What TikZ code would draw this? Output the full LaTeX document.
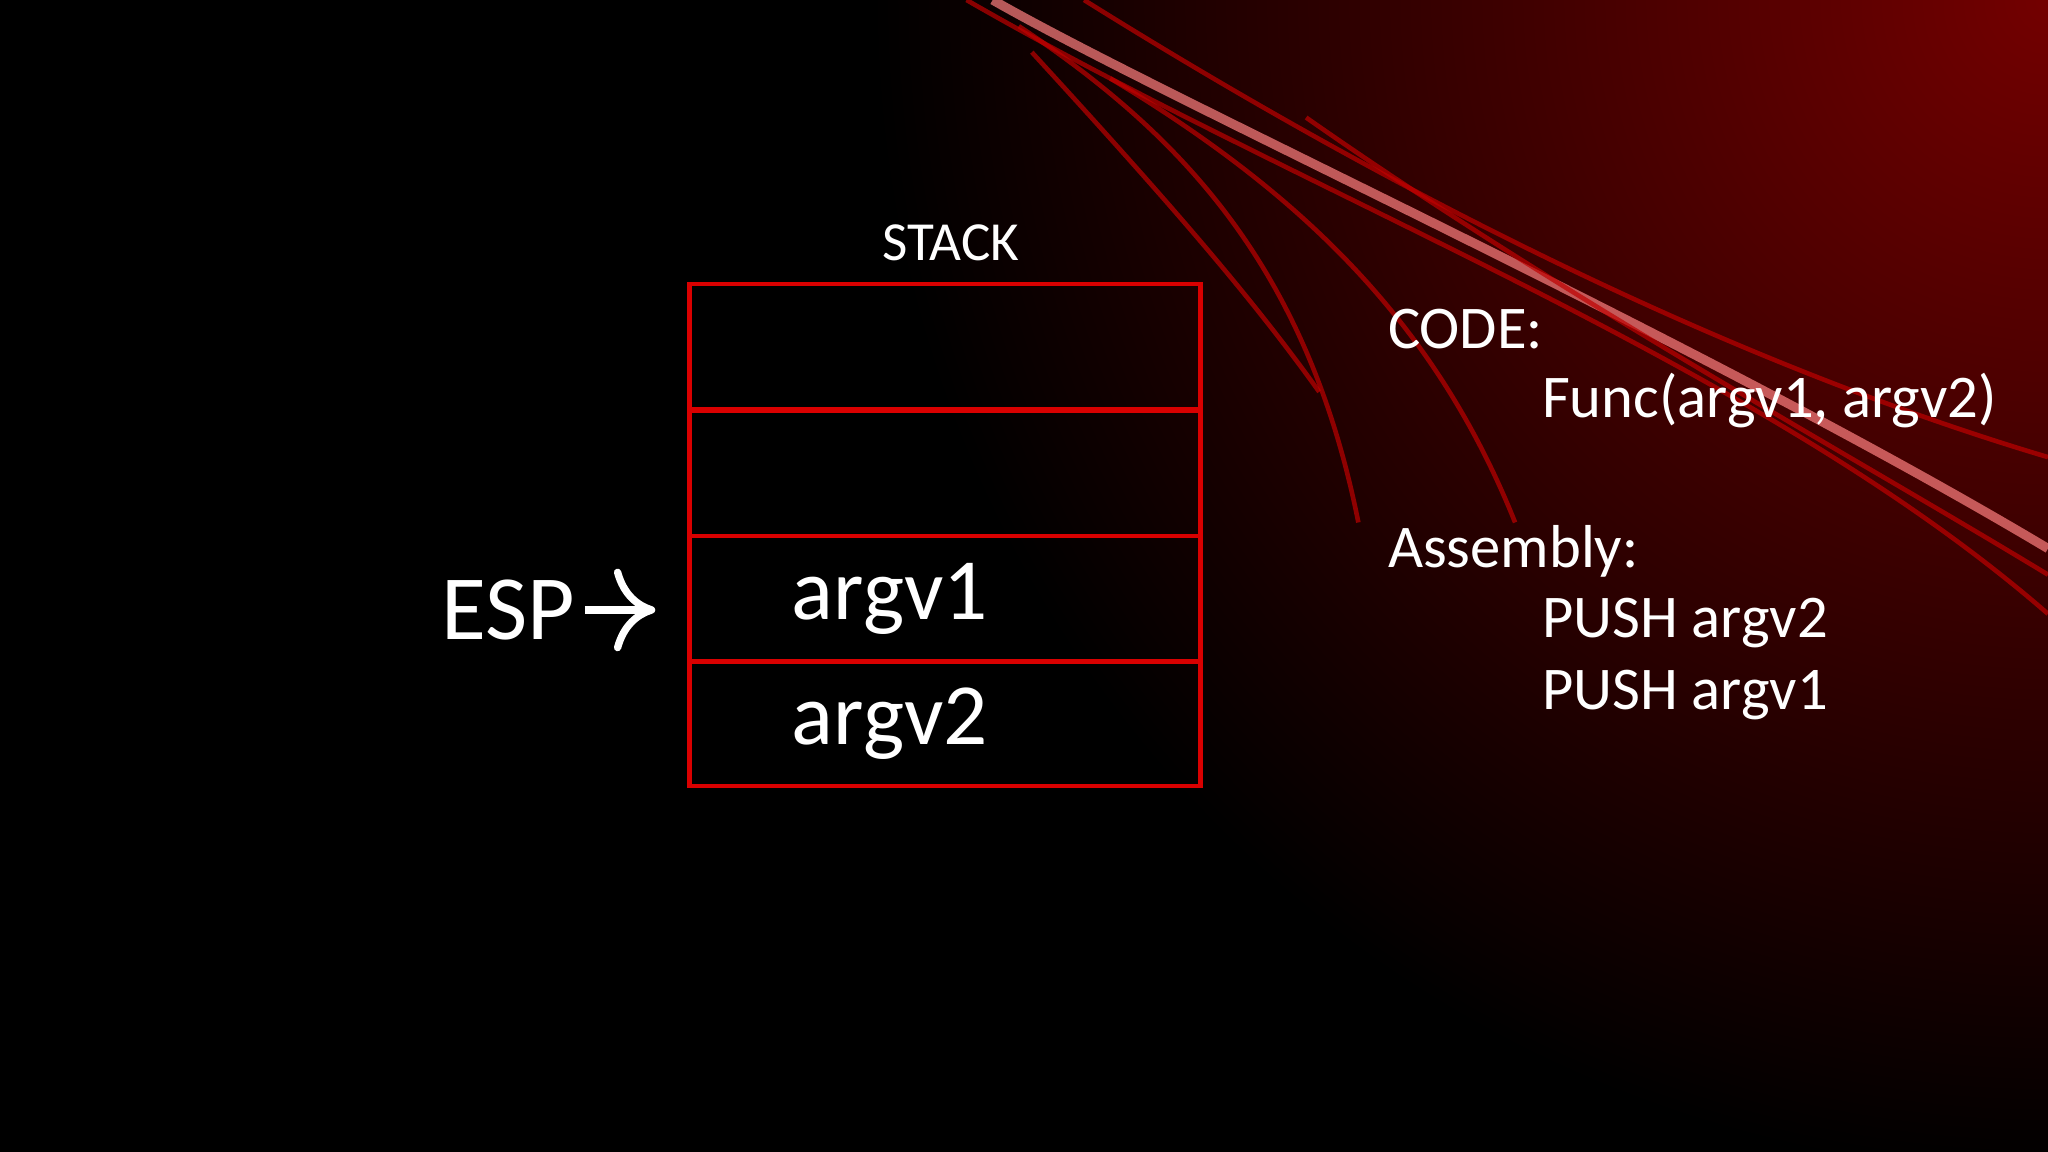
\documentclass[tikz,border=0pt]{standalone}
\usepackage{fontspec}
\setmainfont{Carlito}
\usetikzlibrary{positioning,arrows.meta}
\begin{document}
\begin{tikzpicture}[x=0.01cm,y=-0.01cm,
  cell/.style={draw=red!85!black, line width=0.9pt, minimum width=3.91cm, minimum height=0.96cm, inner sep=0pt, text=white, font=\fontsize{19}{23}\selectfont},
  txt/.style={text=white, anchor=west, inner sep=0pt, font=\fontsize{13.2}{16}\selectfont},
  streak/.style={red!75!black, line width=1pt, opacity=.7}]
\useasboundingbox (0,0) rectangle (1568,882);
% background
\begin{scope}
\clip (0,0) rectangle (1568,882);
\fill[black] (0,0) rectangle (1568,882);
\shade[inner color=red!45!black, outer color=black] (1568,0) circle (900);
\draw[streak] (740,0) .. controls (1000,150) and (1350,280) .. (1568,470);
\draw[streak, line width=2pt, red!50!white] (760,0) .. controls (900,80) and (1300,260) .. (1568,420);
\draw[streak] (830,0) .. controls (1150,200) and (1400,300) .. (1568,350);
\draw[streak] (780,20) .. controls (900,100) and (1000,200) .. (1040,400);
\draw[streak] (850,60) .. controls (1000,150) and (1100,250) .. (1160,400);
\draw[streak] (790,40) .. controls (900,160) and (960,230) .. (1010,300);
\draw[streak] (1000,90) .. controls (1200,230) and (1420,350) .. (1568,440);
\end{scope}
% stack
\node[cell] (c1) at (723.5,265.5) {};
\node[cell] (c2) at (723.5,362.5) {};
\node[cell] (c3) at (723.5,458.5) {\hspace*{-24pt}argv1};
\node[cell] (c4) at (723.5,554) {\hspace*{-24pt}argv2};
\node[text=white, font=\fontsize{12}{14}\selectfont] (stack) at (728,186) {STACK};
% pointer
\node[txt, font=\fontsize{20}{24}\selectfont] (esp) at (337,467) {ESP};
\draw[white, line width=1.6pt, -{To[length=9pt,width=18pt,line width=1.6pt]}, shorten <=2pt, shorten >=7pt] (esp.east) -- (esp.east -| c3.west);
% code
\node[txt] (code) at (1062,252) {CODE:};
\node[txt] (func) at (1180,307) {Func(argv1, argv2)};
\node[txt] (asm) at (1062,422) {Assembly:};
\node[txt] (push2) at (1180,477) {PUSH argv2};
\node[txt] (push1) at (1180,532) {PUSH argv1};
\end{tikzpicture}
\end{document}
